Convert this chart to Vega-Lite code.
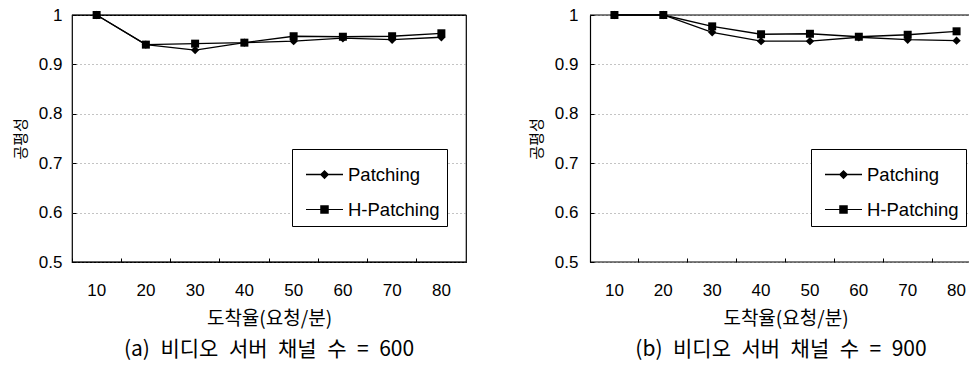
{
  "$schema": "https://vega.github.io/schema/vega-lite/v6.json",
  "background": "white",
  "padding": {"left": 12, "top": 5, "right": 0, "bottom": 0},
  "spacing": 61,
  "resolve": {"scale": {"shape": "independent"}, "legend": {"shape": "independent"}},
  "config": {
    "font": "Liberation Sans",
    "view": {"stroke": "black", "strokeWidth": 1.2},
    "title": {"font": "Noto Sans CJK KR", "fontSize": 21, "fontWeight": "normal", "color": "black"},
    "axis": {"labelColor": "black", "titleColor": "#000000", "labelFontSize": 17, "titleFontWeight": "normal"},
    "legend": {
      "title": null, "orient": "none", "legendY": 134,
      "strokeColor": "black", "fillColor": "white", "padding": 7, "symbolOffset": 7,
      "symbolSize": 1369, "symbolFillColor": "black", "symbolStrokeColor": "black", "symbolStrokeWidth": 0, "symbolOpacity": 1,
      "labelFont": "Liberation Sans", "labelFontSize": 18.5, "labelOffset": 5, "rowPadding": 7, "labelColor": "black"
    }
  },
  "datasets": {
    "d": [
      {"panel": "a", "series": "Patching", "rate": 10, "value": 1.0},
      {"panel": "a", "series": "Patching", "rate": 20, "value": 0.94},
      {"panel": "a", "series": "Patching", "rate": 30, "value": 0.929},
      {"panel": "a", "series": "Patching", "rate": 40, "value": 0.944},
      {"panel": "a", "series": "Patching", "rate": 50, "value": 0.947},
      {"panel": "a", "series": "Patching", "rate": 60, "value": 0.953},
      {"panel": "a", "series": "Patching", "rate": 70, "value": 0.95},
      {"panel": "a", "series": "Patching", "rate": 80, "value": 0.955},
      {"panel": "a", "series": "H-Patching", "rate": 10, "value": 1.0},
      {"panel": "a", "series": "H-Patching", "rate": 20, "value": 0.94},
      {"panel": "a", "series": "H-Patching", "rate": 30, "value": 0.942},
      {"panel": "a", "series": "H-Patching", "rate": 40, "value": 0.944},
      {"panel": "a", "series": "H-Patching", "rate": 50, "value": 0.957},
      {"panel": "a", "series": "H-Patching", "rate": 60, "value": 0.956},
      {"panel": "a", "series": "H-Patching", "rate": 70, "value": 0.957},
      {"panel": "a", "series": "H-Patching", "rate": 80, "value": 0.963},
      {"panel": "b", "series": "Patching", "rate": 10, "value": 1.0},
      {"panel": "b", "series": "Patching", "rate": 20, "value": 1.0},
      {"panel": "b", "series": "Patching", "rate": 30, "value": 0.965},
      {"panel": "b", "series": "Patching", "rate": 40, "value": 0.947},
      {"panel": "b", "series": "Patching", "rate": 50, "value": 0.947},
      {"panel": "b", "series": "Patching", "rate": 60, "value": 0.955},
      {"panel": "b", "series": "Patching", "rate": 70, "value": 0.95},
      {"panel": "b", "series": "Patching", "rate": 80, "value": 0.948},
      {"panel": "b", "series": "H-Patching", "rate": 10, "value": 1.0},
      {"panel": "b", "series": "H-Patching", "rate": 20, "value": 1.0},
      {"panel": "b", "series": "H-Patching", "rate": 30, "value": 0.977},
      {"panel": "b", "series": "H-Patching", "rate": 40, "value": 0.961},
      {"panel": "b", "series": "H-Patching", "rate": 50, "value": 0.962},
      {"panel": "b", "series": "H-Patching", "rate": 60, "value": 0.956},
      {"panel": "b", "series": "H-Patching", "rate": 70, "value": 0.96},
      {"panel": "b", "series": "H-Patching", "rate": 80, "value": 0.967}
    ]
  },
  "hconcat": [
    {
      "width": 394,
      "height": 247,
      "title": {"text": "(a)\u2002비디오\u2002서버\u2002채널\u2002수\u2002=\u2002600", "orient": "bottom", "offset": 11},
      "data": {"name": "d"},
      "transform": [{"filter": "datum.panel == 'a'"}],
      "layer": [
        {
          "mark": {"type": "line", "color": "black", "strokeWidth": 1.3},
          "encoding": {
            "x": {"field": "rate", "type": "ordinal", "scale": {"type": "band", "paddingInner": 0, "paddingOuter": 0},
              "axis": {"title": "도착율(요청/분)", "titleFont": "Noto Sans CJK KR", "titleFontSize": 19, "titlePadding": 11,
                "labelAngle": 0, "bandPosition": 0, "ticks": true, "tickSize": -4, "tickColor": "black", "domain": false, "grid": false, "labelPadding": 24}},
            "y": {"field": "value", "type": "quantitative", "scale": {"domain": [0.5, 1]},
              "axis": {"title": "공평성", "titleFont": "Noto Sans CJK KR", "titleFontSize": 15, "titlePadding": 10,
                "values": [0.5, 0.6, 0.7, 0.8, 0.9, 1], "format": ".1~f", "ticks": true, "tickSize": -4, "tickColor": "black", "labelPadding": 14,
                "domain": false, "grid": true, "gridColor": "#888", "gridDash": [1, 3], "gridWidth": 1}},
            "detail": {"field": "series"}
          }
        },
        {
          "transform": [{"filter": "datum.series == 'Patching'"}],
          "mark": {"type": "point", "filled": true, "color": "black", "opacity": 1, "size": 70, "shape": "diamond"},
          "encoding": {"x": {"field": "rate", "type": "ordinal"}, "y": {"field": "value", "type": "quantitative"}}
        },
        {
          "transform": [{"filter": "datum.series == 'H-Patching'"}],
          "mark": {"type": "point", "filled": true, "color": "black", "opacity": 1, "size": 64, "shape": "square"},
          "encoding": {"x": {"field": "rate", "type": "ordinal"}, "y": {"field": "value", "type": "quantitative"}}
        },
        {
          "transform": [{"filter": "datum.rate < 0"}],
          "mark": {"type": "point", "filled": true, "color": "black", "opacity": 1},
          "encoding": {
            "x": {"field": "rate", "type": "ordinal"},
            "y": {"field": "value", "type": "quantitative"},
            "shape": {"field": "series", "type": "nominal",
              "scale": {"domain": ["Patching", "H-Patching"], "range": ["M-1,-0.035L1,-0.035L1,0.035L-1,0.035ZM0,-0.25L0.25,0L0,0.25L-0.25,0Z", "M-1,-0.03L1,-0.03L1,0.03L-1,0.03ZM-0.23,-0.23L0.23,-0.23L0.23,0.23L-0.23,0.23Z"]},
              "legend": {"legendX": 220}}
          }
        },
        {
          "data": {"values": [{"v": 1}, {"v": 0.5}]},
          "mark": {"type": "rule", "color": "black", "strokeWidth": 1.2},
          "encoding": {"y": {"field": "v", "type": "quantitative"}}
        }
      ]
    },
    {
      "width": 382,
      "height": 247,
      "view": {"stroke": null},
      "title": {"text": "(b)\u2002비디오\u2002서버\u2002채널\u2002수\u2002=\u2002900", "orient": "bottom", "offset": 11},
      "data": {"name": "d"},
      "transform": [{"filter": "datum.panel == 'b'"}],
      "layer": [
        {
          "mark": {"type": "line", "color": "black", "strokeWidth": 1.3},
          "encoding": {
            "x": {"field": "rate", "type": "ordinal", "scale": {"type": "band", "paddingInner": 0, "paddingOuter": 0, "range": [0, 391]},
              "axis": {"title": "도착율(요청/분)", "titleFont": "Noto Sans CJK KR", "titleFontSize": 19, "titlePadding": 11,
                "labelAngle": 0, "bandPosition": 0, "ticks": true, "tickSize": -4, "tickColor": "black", "domain": false, "grid": false, "labelPadding": 24}},
            "y": {"field": "value", "type": "quantitative", "scale": {"domain": [0.5, 1]},
              "axis": {"title": "공평성", "titleFont": "Noto Sans CJK KR", "titleFontSize": 15, "titlePadding": 10,
                "values": [0.5, 0.6, 0.7, 0.8, 0.9, 1], "format": ".1~f", "ticks": true, "tickSize": -4, "tickColor": "black", "labelPadding": 16,
                "domain": true, "domainColor": "black", "domainWidth": 1.2, "grid": true, "gridColor": "#888", "gridDash": [1, 3], "gridWidth": 1}},
            "detail": {"field": "series"}
          }
        },
        {
          "transform": [{"filter": "datum.series == 'Patching'"}],
          "mark": {"type": "point", "filled": true, "color": "black", "opacity": 1, "size": 70, "shape": "diamond"},
          "encoding": {"x": {"field": "rate", "type": "ordinal"}, "y": {"field": "value", "type": "quantitative"}}
        },
        {
          "transform": [{"filter": "datum.series == 'H-Patching'"}],
          "mark": {"type": "point", "filled": true, "color": "black", "opacity": 1, "size": 64, "shape": "square"},
          "encoding": {"x": {"field": "rate", "type": "ordinal"}, "y": {"field": "value", "type": "quantitative"}}
        },
        {
          "transform": [{"filter": "datum.rate < 0"}],
          "mark": {"type": "point", "filled": true, "color": "black", "opacity": 1},
          "encoding": {
            "x": {"field": "rate", "type": "ordinal"},
            "y": {"field": "value", "type": "quantitative"},
            "shape": {"field": "series", "type": "nominal",
              "scale": {"domain": ["Patching", "H-Patching"], "range": ["M-1,-0.035L1,-0.035L1,0.035L-1,0.035ZM0,-0.25L0.25,0L0,0.25L-0.25,0Z", "M-1,-0.03L1,-0.03L1,0.03L-1,0.03ZM-0.23,-0.23L0.23,-0.23L0.23,0.23L-0.23,0.23Z"]},
              "legend": {"legendX": 221}}
          }
        },
        {
          "data": {"values": [{"v": 1}, {"v": 0.5}]},
          "mark": {"type": "rule", "color": "black", "strokeWidth": 1.2},
          "encoding": {"y": {"field": "v", "type": "quantitative"}}
        }
      ]
    }
  ]
}
